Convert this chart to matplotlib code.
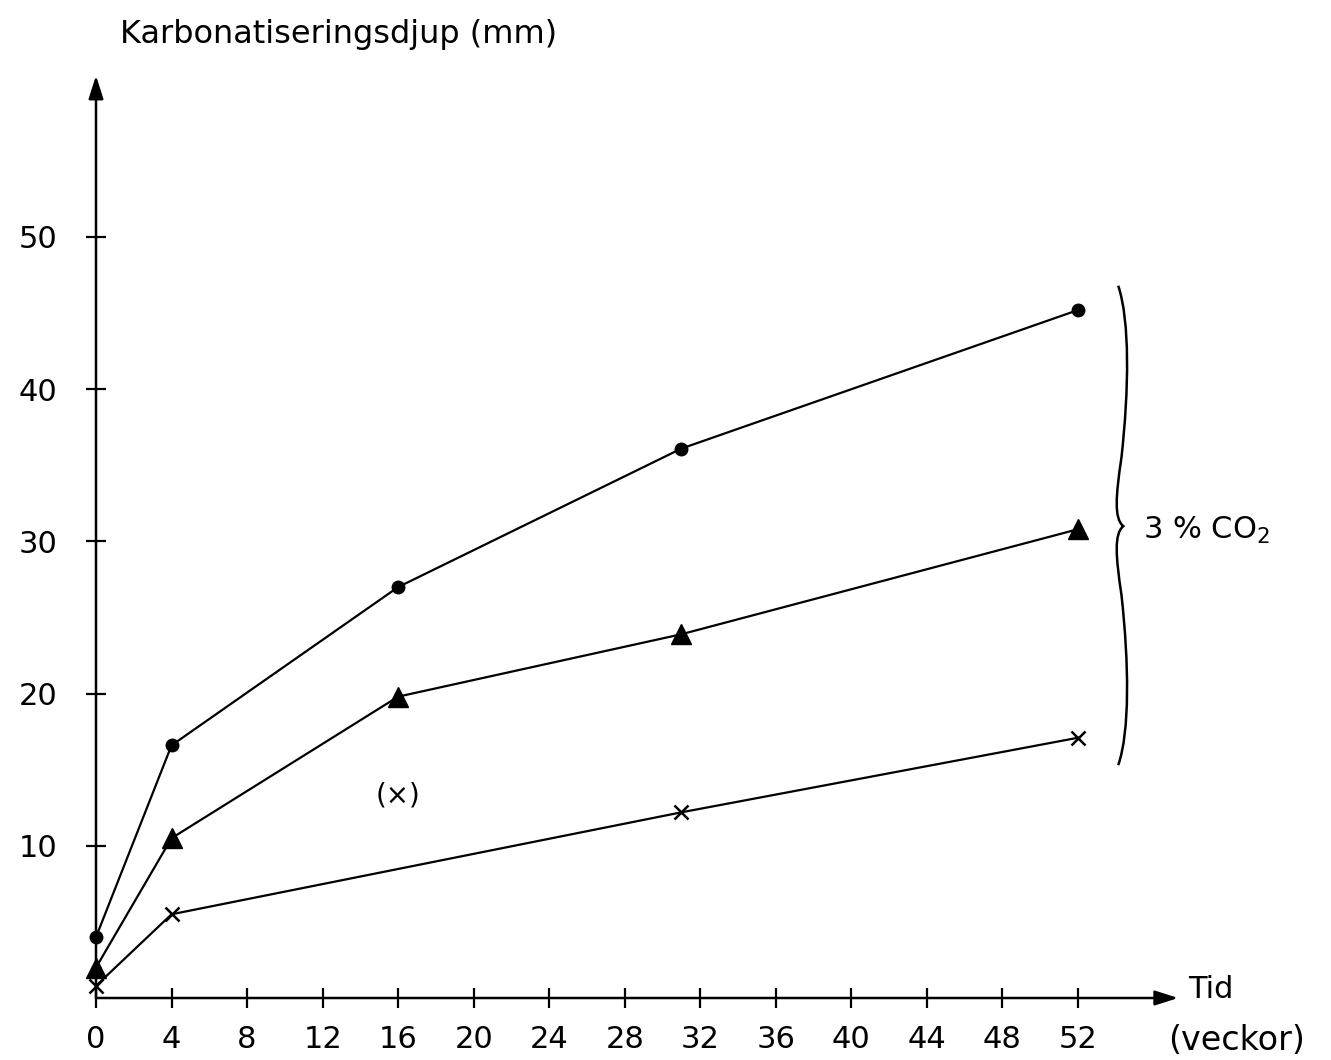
import matplotlib
matplotlib.use("Agg")
import matplotlib.pyplot as plt
from matplotlib.path import Path
from matplotlib.patches import PathPatch

# weeks and carbonation depth (mm)
weeks_circle = [0, 4, 16, 31, 52]
depth_circle = [4.0, 16.6, 27.0, 36.1, 45.2]

weeks_tri = [0, 4, 16, 31, 52]
depth_tri = [2.0, 10.5, 19.8, 23.9, 30.8]

weeks_cross = [0, 4, 31, 52]
depth_cross = [0.8, 5.5, 12.2, 17.1]

# the bracketed outlier "(x)" at 16 weeks
outlier_week = 16
outlier_depth = 13.3

x_ticks = list(range(0, 53, 4))
y_ticks = [10, 20, 30, 40, 50]

plt.rcParams['font.family'] = ['DejaVu Sans']

fig = plt.figure(figsize=(13.31, 10.60), dpi=100)
W, H = 1331, 1060
px_week = (1078 - 96) / 52
px_mm = (998 - 237) / 50
xmax, ymax = 57.5, 61
ax = fig.add_axes([96 / W, 62 / H, xmax * px_week / W, ymax * px_mm / H])
ax.set_xlim(0, xmax)
ax.set_ylim(0, ymax)
for s in ax.spines.values():
    s.set_visible(False)

# axes with arrow heads
ax.annotate('', xy=(57.3, 0), xytext=(0, 0),
            arrowprops=dict(arrowstyle='-|>,head_length=1.4,head_width=0.45', color='black', lw=1.8,
                            shrinkA=0, shrinkB=0))
ax.annotate('', xy=(0, 60.6), xytext=(0, 0),
            arrowprops=dict(arrowstyle='-|>,head_length=1.4,head_width=0.45', color='black', lw=1.8,
                            shrinkA=0, shrinkB=0))

ax.set_xticks(x_ticks)
ax.set_yticks(y_ticks)
ax.tick_params(axis='both', direction='inout', length=15, width=1.6, labelsize=22, colors='black')
ax.tick_params(axis='x', pad=12)
ax.tick_params(axis='y', pad=20)

ax.plot(weeks_circle, depth_circle, '-', color='black', lw=1.6, marker='o', ms=9, clip_on=False)
ax.plot(weeks_tri, depth_tri, '-', color='black', lw=1.6, marker='^', ms=15, clip_on=False)
ax.plot(weeks_cross, depth_cross, '-', color='black', lw=1.6, marker='x', ms=10, mew=1.8, clip_on=False)
ax.text(outlier_week, outlier_depth, '(×)', fontsize=20, ha='center', va='center')

# curly brace grouping the three series
verts = [(54.13, 46.8),
         (54.75, 44.5), (54.7, 40.0), (54.3, 35.5),
         (54.0, 33.0), (53.9, 31.5), (54.4, 31.0),
         (53.9, 30.5), (54.0, 29.0), (54.3, 26.5),
         (54.7, 22.0), (54.75, 17.5), (54.13, 15.3)]
codes = [Path.MOVETO] + [Path.CURVE4] * 12
ax.add_patch(PathPatch(Path(verts, codes), fill=False, lw=1.8, color='black'))
ax.text(55.45, 30.7, '3 % CO$_2$', fontsize=22, ha='left', va='center')

fig.text(120 / W, 1 - 35 / H, 'Karbonatiseringsdjup (mm)', fontsize=23, ha='left', va='center')
fig.text(1188 / W, 1 - 990 / H, 'Tid', fontsize=22, ha='left', va='center')
fig.text(1168 / W, 1 - 1040 / H, '(veckor)', fontsize=24, ha='left', va='center')

fig.savefig('out.png', dpi=100)
